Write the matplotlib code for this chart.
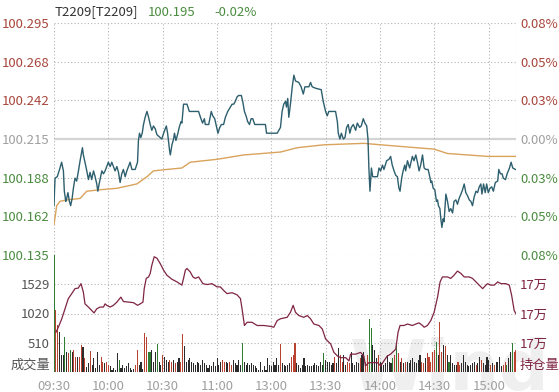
import numpy as np
import matplotlib
matplotlib.use("Agg")
from matplotlib import pyplot as plt
from matplotlib.ticker import FuncFormatter

plt.rcParams['font.family'] = ['Noto Sans CJK SC', 'DejaVu Sans']

# ---- data (minutes from 09:30, lunch break removed) ----
pre_settle = 100.215
last_price = 100.195
last_change = -0.02

price_min = [0.0, 0.3, 0.6, 1.8, 3.3, 4.2, 5.2, 5.7, 6.5, 7.0, 7.7, 8.5, 9.2, 10.0, 10.7, 11.6, 12.5, 13.5,
             14.4, 15.7, 16.2, 17.1, 18.1, 19.0, 19.9, 20.8, 21.8, 22.7, 23.6, 24.2, 24.9, 25.4, 26.4, 27.3,
             28.2, 29.1, 30.0, 31.0, 31.9, 32.8, 33.7, 34.7, 35.6, 36.5, 37.4, 38.3, 39.3, 40.2, 41.1, 42.0,
             43.0, 44.8, 46.1, 46.6, 47.2, 47.9, 48.7, 49.4, 50.3, 51.3, 52.2, 53.1, 54.0, 54.9, 55.9, 56.8,
             58.6, 59.5, 60.5, 62.0, 62.7, 63.8, 64.2, 65.1, 66.0, 66.5, 67.3, 68.4, 69.1, 70.1, 70.6, 71.5,
             73.4, 74.7, 79.8, 81.1, 82.0, 83.0, 83.5, 85.4, 86.3, 86.8, 87.6, 88.7, 89.6, 90.5, 91.5, 92.4,
             93.6, 94.6, 95.9, 97.3, 98.3, 99.2, 100.1, 101.0, 101.9, 103.4, 104.3, 105.1, 106.0, 106.9,
             107.9, 108.8, 109.7, 110.8, 116.7, 117.3, 123.2, 125.0, 125.9, 126.8, 127.8, 128.3, 129.0,
             129.6, 130.5, 131.5, 132.4, 133.3, 135.1, 136.4, 137.6, 138.5, 140.7, 141.6, 142.5, 144.4,
             147.5, 148.6, 149.9, 150.8, 151.7, 155.4, 156.4, 156.9, 157.8, 158.6, 159.7, 160.6, 161.5,
             162.4, 163.3, 164.1, 165.2, 166.5, 167.4, 168.7, 169.6, 170.7, 171.6, 172.6, 173.3, 173.8,
             174.4, 175.2, 175.9, 178.5, 179.4, 180.3, 181.3, 182.1, 183.6, 184.9, 185.8, 186.7, 187.7,
             188.6, 189.5, 190.4, 191.0, 191.9, 192.7, 193.6, 194.1, 195.1, 196.3, 197.8, 198.7, 199.7,
             200.6, 201.5, 202.4, 203.4, 204.3, 205.2, 206.5, 207.4, 208.0, 208.5, 209.3, 210.2, 211.1,
             211.7, 212.2, 213.0, 213.5, 214.1, 214.8, 215.3, 216.3, 217.2, 218.1, 219.0, 220.0, 220.8,
             221.8, 222.7, 223.6, 224.6, 225.5, 226.4, 227.3, 228.2, 229.2, 230.1, 231.0, 231.9, 232.9,
             233.8, 234.7, 235.6, 236.2, 237.1, 238.0, 238.8, 239.7, 240.6, 241.6, 242.5, 243.6, 244.9,
             245.5, 246.4, 247.3, 248.0, 249.2, 250.1, 251.4, 252.3, 253.2, 254.7]
price = [100.169, 100.180, 100.188, 100.189, 100.195, 100.199, 100.193, 100.179, 100.172, 100.174, 100.178,
         100.172, 100.169, 100.174, 100.181, 100.188, 100.186, 100.193, 100.200, 100.209, 100.204, 100.199,
         100.193, 100.187, 100.192, 100.187, 100.193, 100.189, 100.184, 100.179, 100.184, 100.187, 100.193,
         100.191, 100.193, 100.196, 100.199, 100.196, 100.199, 100.196, 100.193, 100.196, 100.192, 100.185,
         100.191, 100.194, 100.189, 100.193, 100.196, 100.199, 100.194, 100.194, 100.199, 100.214, 100.219,
         100.216, 100.219, 100.225, 100.230, 100.234, 100.230, 100.225, 100.221, 100.224, 100.222, 100.218,
         100.216, 100.215, 100.219, 100.224, 100.219, 100.207, 100.204, 100.211, 100.215, 100.219, 100.214,
         100.219, 100.223, 100.227, 100.226, 100.239, 100.239, 100.234, 100.234, 100.229, 100.226, 100.229,
         100.225, 100.225, 100.231, 100.234, 100.231, 100.229, 100.224, 100.219, 100.223, 100.225, 100.225,
         100.230, 100.234, 100.237, 100.239, 100.239, 100.241, 100.244, 100.245, 100.245, 100.240, 100.234,
         100.231, 100.227, 100.225, 100.229, 100.229, 100.225, 100.225, 100.219, 100.219, 100.223, 100.234,
         100.239, 100.241, 100.237, 100.243, 100.230, 100.239, 100.251, 100.259, 100.255, 100.254, 100.251,
         100.246, 100.251, 100.251, 100.254, 100.251, 100.250, 100.249, 100.241, 100.234, 100.231, 100.234,
         100.234, 100.227, 100.219, 100.215, 100.219, 100.215, 100.216, 100.223, 100.225, 100.219, 100.223,
         100.225, 100.221, 100.226, 100.223, 100.224, 100.229, 100.226, 100.224, 100.215, 100.195, 100.179,
         100.195, 100.189, 100.189, 100.195, 100.193, 100.197, 100.194, 100.200, 100.201, 100.203, 100.197,
         100.193, 100.190, 100.189, 100.181, 100.179, 100.188, 100.193, 100.197, 100.193, 100.200, 100.195,
         100.203, 100.200, 100.204, 100.199, 100.193, 100.197, 100.204, 100.195, 100.194, 100.194, 100.189,
         100.185, 100.186, 100.181, 100.180, 100.172, 100.173, 100.169, 100.167, 100.160, 100.154, 100.160,
         100.158, 100.177, 100.172, 100.165, 100.167, 100.164, 100.172, 100.173, 100.170, 100.174, 100.177,
         100.180, 100.184, 100.178, 100.176, 100.173, 100.172, 100.169, 100.175, 100.179, 100.178, 100.182,
         100.184, 100.177, 100.184, 100.178, 100.184, 100.178, 100.181, 100.182, 100.179, 100.185, 100.186,
         100.194, 100.191, 100.191, 100.188, 100.187, 100.191, 100.195, 100.199, 100.195, 100.194]

avg_min = [0.0, 1.5, 3.3, 7.0, 14.4, 18.1, 25.4, 34.7, 45.7, 51.3, 54.9, 62.3, 70.6, 75.2, 90.0, 104.7,
           125.0, 134.2, 149.0, 171.0, 180.3, 209.8, 217.2, 239.3, 255.0]
avg_price = [100.156, 100.169, 100.172, 100.173, 100.174, 100.179, 100.180, 100.181, 100.184, 100.189,
             100.193, 100.194, 100.195, 100.199, 100.201, 100.204, 100.206, 100.209, 100.211, 100.212,
             100.211, 100.208, 100.205, 100.203, 100.203]

oi_min = [1.1, 2.4, 4.3, 6.1, 7.9, 9.8, 11.6, 13.4, 14.9, 16.2, 17.1, 19.0, 20.9, 22.1, 23.6, 25.4, 27.3,
          28.2, 29.1, 31.0, 32.8, 34.7, 36.9, 38.3, 41.1, 43.9, 46.1, 47.6, 49.1, 49.8, 50.9, 52.2, 53.1,
          54.0, 55.3, 56.8, 58.6, 60.5, 62.3, 65.1, 67.9, 70.6, 71.5, 72.5, 73.4, 75.2, 76.7, 78.0, 79.8,
          82.2, 84.5, 87.2, 90.0, 91.8, 93.6, 95.5, 98.3, 101.0, 102.9, 103.8, 105.1, 106.6, 109.3, 112.1,
          115.8, 119.5, 121.3, 123.2, 125.0, 128.7, 130.5, 132.0, 133.3, 135.1, 137.9, 139.8, 141.6, 143.4,
          146.2, 148.1, 149.9, 152.7, 154.5, 156.4, 158.2, 161.0, 162.8, 163.7, 166.5, 169.2, 171.0, 171.9,
          173.8, 178.5, 180.3, 182.1, 184.0, 185.8, 188.6, 189.9, 191.0, 193.2, 195.1, 197.8, 199.7, 201.5,
          203.4, 204.3, 206.1, 208.0, 209.8, 211.7, 213.1, 214.4, 217.2, 219.0, 220.8, 222.7, 224.6, 226.4,
          229.2, 231.0, 232.9, 234.7, 236.6, 238.4, 239.3, 241.2, 243.0, 244.9, 246.7, 249.4, 251.3, 252.6,
          254.0, 255.0]
oi = [171836, 171853, 171882, 171916, 171951, 171968, 171985, 171987, 172002, 171973, 171933, 171922,
      171910, 171902, 171916, 171922, 171922, 171933, 171928, 171922, 171928, 171939, 171956, 171941,
      171939, 171937, 171928, 171933, 171939, 171985, 172020, 172025, 172037, 172065, 172094, 172089,
      172071, 172048, 172031, 172017, 172008, 171997, 172020, 172048, 172054, 172042, 172025, 172020,
      172025, 172002, 171999, 172002, 171991, 171991, 171979, 171968, 171971, 171964, 171951, 171916,
      171859, 171870, 171870, 171859, 171859, 171856, 171853, 171876, 171882, 171887, 171904, 171928,
      171904, 171893, 171887, 171893, 171882, 171864, 171859, 171847, 171813, 171796, 171767, 171755,
      171749, 171749, 171738, 171761, 171761, 171767, 171755, 171721, 171732, 171732, 171721, 171738,
      171755, 171761, 171778, 171836, 171859, 171859, 171864, 171859, 171864, 171868, 171859, 171853,
      171859, 171876, 171904, 171956, 172008, 172025, 172025, 172020, 172031, 172045, 172037, 172025,
      172025, 172020, 172008, 171997, 171985, 171997, 172002, 171997, 171997, 172008, 172002, 172002,
      171997, 171962, 171910, 171899]

# one bar per minute, r = up, g = down, k = flat
volume = [2100, 1080, 820, 700, 290, 296, 615, 354, 325, 383, 354, 383, 267, 267, 267, 470,
          440, 250, 90, 150, 370, 120, 250, 64, 354, 122, 267, 180, 163, 180, 122, 99, 35, 64, 30, 325,
          209, 64, 122, 64, 99, 163, 64, 40, 60, 122, 383, 122, 180, 60, 674,
          615, 354, 354, 383, 180, 354, 482, 180, 122, 296, 267, 209, 180, 209, 180, 209, 163, 180, 238,
          180, 664,
          460, 180, 209, 238, 180, 163, 122, 180, 163, 122, 209, 163, 122, 64, 122, 99, 180, 99, 238,
          122, 180, 209, 180, 180, 163, 180, 122, 209, 163, 122, 209, 122, 500,
          180, 122, 163, 122, 163, 122, 99, 64, 40, 180, 40, 99, 40, 238, 122, 99, 180, 122, 238, 122, 482,
          163, 122, 99, 122, 163, 267, 296, 505, 163, 122, 64, 122, 238, 99, 122, 99, 99, 122, 163, 122,
          99, 180, 122, 325, 209, 180, 180, 122, 163,
          267, 163, 410, 296, 180, 296, 122, 180, 163, 354, 163, 122, 180, 163, 238, 296, 354, 180, 296,
          918, 760, 470, 383, 238, 296, 180, 163, 122, 163, 296, 180, 163, 238, 296, 500, 325, 180, 238,
          163, 180, 180, 163, 209, 238, 180, 163, 209, 296, 180, 163, 238, 325, 267, 180, 354, 383, 519,
          296, 877, 354, 470, 460, 296, 180, 296, 163, 122, 122, 180, 122, 163, 296, 180, 122, 99, 122,
          163, 180, 122, 163, 267, 209, 163, 122, 267, 209, 122, 163, 122, 180, 180, 267, 99, 122, 180,
          122, 238, 354, 505, 354, 383]
vol_dir = ("grrkkkgkrgkrrkrr"
           "krkkrkkkkkrrkrrkkkkkgkkkkkkkkrrkkkr"
           "rggkkkgkkrkkkrrkrkkrr"
           "kkkkkkkkkkkkkkkkkkkkkrrkkrrkkkkkg"
           "kkkkkkkkkkkkkkkkkkkkr"
           "kkkkkrrrkkkkkkkkkkkkkkkgkkkkk"
           "rkkrrkkrrkkkkkrkkrrggkkkrkkkkkkkgrgrkrkrkkkkkkkkrrkrrrrrgkrrkrkgkkkkrrkkkkkkkkrkkrkkkkrkrkkkkrrgkk")
time_labels = ["09:30", "10:00", "10:30", "11:00", "13:00", "13:30", "14:00", "14:30", "15:00"]

bar_colors = {'r': '#b8412f', 'g': '#2f7d32', 'k': '#2b2b2b'}
red_txt = '#a8463c'
green_txt = '#4a8c3f'
grey_txt = '#a0a0a0'
oi_color = '#7f2443'

fig = plt.figure(figsize=(5.59, 3.92), dpi=100)
ax = fig.add_axes([54 / 559, 1 - 255 / 392, 462 / 559, 232 / 392])
axv = fig.add_axes([54 / 559, 1 - 372 / 392, 462 / 559, 117 / 392], sharex=ax)
for a in (ax, axv):
    a.set_facecolor('none')
    for s in a.spines.values():
        s.set_visible(False)

dotted = dict(color='#b4b4b4', linestyle=(0, (1, 2)), linewidth=0.8)

# price panel
ylo, yhi = 100.135, 100.295
ax.set_xlim(0, 255)
ax.set_ylim(ylo, yhi)
pticks = np.linspace(ylo, yhi, 7)
for t in pticks:
    if abs(t - pre_settle) < 1e-6:
        ax.axhline(t, color='#d4d4d4', linewidth=1.6, zorder=1)
    else:
        ax.axhline(t, zorder=1, **dotted)
for m in list(range(0, 241, 30)) + [255]:
    ax.axvline(m, zorder=1, **dotted)
    axv.axvline(m, zorder=1, **dotted)

ax.plot(avg_min, avg_price, color='#d9a35c', linewidth=1.0, zorder=3)
ax.plot(price_min, price, color='#2d5f6e', linewidth=1.0, zorder=4)

ax.set_yticks(pticks)
ax.set_yticklabels([f"{t:.3f}" for t in pticks])
ax.tick_params(axis='both', length=0, labelsize=9.5, pad=3)
ax.tick_params(axis='x', labelbottom=False)
for t, lab in zip(pticks, ax.get_yticklabels()):
    lab.set_color(red_txt if t > pre_settle + 1e-6 else (green_txt if t < pre_settle - 1e-6 else grey_txt))

axr = ax.twinx()
axr.set_ylim(ylo, yhi)
axr.set_yticks(pticks)
axr.set_yticklabels([f"{abs(t - pre_settle) / pre_settle * 100:.2f}%" for t in pticks])
axr.tick_params(length=0, labelsize=9.5, pad=3)
for s in axr.spines.values():
    s.set_visible(False)
for t, lab in zip(pticks, axr.get_yticklabels()):
    lab.set_color(red_txt if t > pre_settle + 1e-6 else (green_txt if t < pre_settle - 1e-6 else grey_txt))

# volume / open interest panel
vmax = 2039
axv.set_ylim(0, vmax)
vticks = [vmax / 4, vmax / 2, vmax * 3 / 4]
for t in vticks:
    axv.axhline(t, zorder=1, **dotted)
minutes = np.arange(len(volume))
axv.bar(minutes, volume, width=0.6, color=[bar_colors[c] for c in vol_dir], zorder=2)
axv.set_yticks(vticks)
axv.set_yticklabels([f"{round(t)}" for t in vticks], color='#555555')
axv.tick_params(axis='y', length=0, labelsize=9.5, pad=3)
axv.tick_params(axis='x', length=0, labelsize=9.5, colors=grey_txt, pad=6)
axv.set_xticks(range(0, 241, 30))
axv.set_xticklabels(time_labels)
axv.text(-0.008, 0, "成交量", transform=axv.transAxes, ha='right', va='bottom', fontsize=9.5, color='#555555')

axo = axv.twinx()
axo.set_ylim(171700, 172100)
axo.plot(oi_min, oi, color=oi_color, linewidth=0.9, zorder=3)
axo.set_yticks([171800, 171900, 172000])
axo.yaxis.set_major_formatter(FuncFormatter(lambda v, p: f"{int(v // 10000)}万"))
axo.tick_params(length=0, labelsize=9.5, pad=3, colors=oi_color)
for s in axo.spines.values():
    s.set_visible(False)
axo.set_facecolor('none')
axo.text(1.008, 0, "持仓量", transform=axo.transAxes, ha='left', va='bottom', fontsize=9.5, color=oi_color)

# header
fig.text(55 / 559, 1 - 12 / 392, "T2209[T2209]", fontsize=9.5, color='#333333', va='center')
fig.text(148 / 559, 1 - 12 / 392, f"{last_price:.3f}", fontsize=9.5, color=green_txt, va='center')
fig.text(214 / 559, 1 - 12 / 392, f"{last_change:.2f}%", fontsize=9.5, color=green_txt, va='center')

# faint watermark behind everything
fig.text(350 / 559, -0.03, "Wind", fontsize=50, fontweight='bold', color='#efefef',
         ha='left', va='bottom', zorder=-1, family='DejaVu Sans')

fig.savefig("out.png", dpi=100, facecolor='white')
